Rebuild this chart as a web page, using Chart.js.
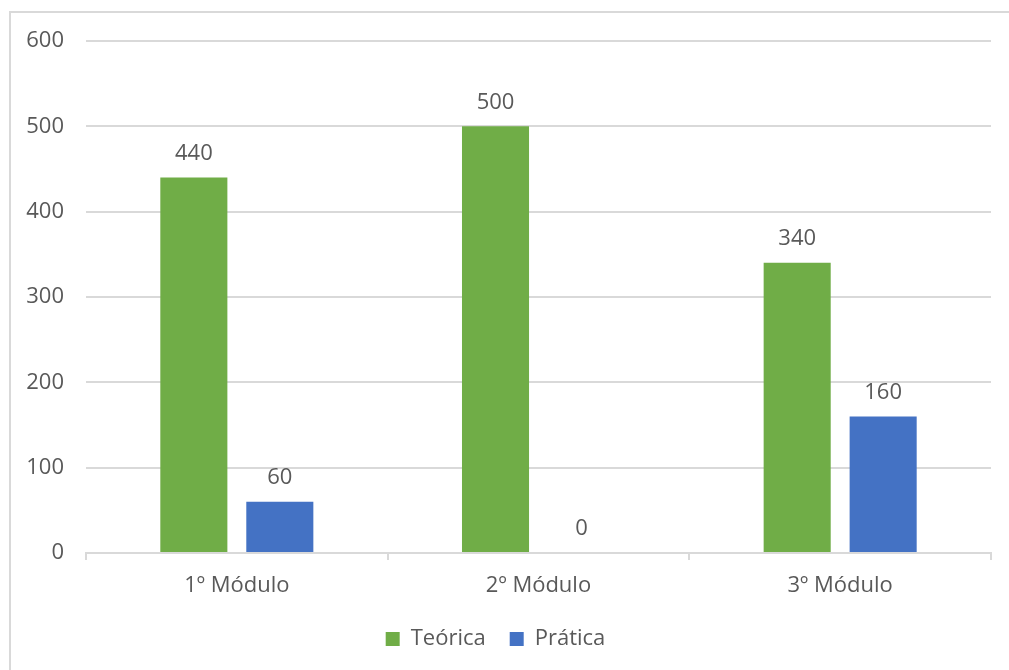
<!DOCTYPE html>
<html>
<head>
<meta charset="utf-8">
<script src="https://cdn.jsdelivr.net/npm/chart.js@4"></script>
<style>
  html, body { margin: 0; padding: 0; background: #fff; }
  #wrap { position: relative; width: 1009px; height: 670px; overflow: hidden; }
  #frame { position: absolute; left: 9px; top: 11px; width: 1100px; height: 800px; border: 2px solid #d9d9d9; box-sizing: border-box; }
  canvas { position: absolute; left: 0; top: 0; }
</style>
</head>
<body>
<div id="wrap">
  <div id="frame"></div>
  <canvas id="grafico" width="1009" height="670"></canvas>
</div>
<script>
const categorias = ["1º Módulo", "2º Módulo", "3º Módulo"];
const teorica = [440, 500, 340];
const pratica = [60, 0, 160];
const ticksY = [0, 100, 200, 300, 400, 500, 600];

const corTexto = "#595959";
const fonte = "'Open Sans', 'Liberation Sans', sans-serif";
const tamanho = 22;

// Rótulos de dados por cima das barras
const rotulos = {
  id: "rotulos",
  afterDatasetsDraw(chart) {
    const ctx = chart.ctx;
    ctx.save();
    ctx.font = tamanho + "px " + fonte;
    ctx.fillStyle = corTexto;
    ctx.textAlign = "center";
    ctx.textBaseline = "middle";
    chart.data.datasets.forEach((ds, i) => {
      chart.getDatasetMeta(i).data.forEach((bar, j) => {
        ctx.fillText(String(ds.data[j]), bar.x, bar.y - 24);
      });
    });
    ctx.restore();
  },
};

new Chart(document.getElementById("grafico").getContext("2d"), {
  type: "bar",
  data: {
    labels: categorias,
    datasets: [
      { label: "Teórica", data: teorica, backgroundColor: "#70ad47" },
      { label: "Prática", data: pratica, backgroundColor: "#4472c4" },
    ],
  },
  options: {
    responsive: false,
    animation: false,
    events: [],
    layout: { padding: { top: 41, right: 18, bottom: 10, left: 0 } },
    datasets: { bar: { categoryPercentage: 0.57, barPercentage: 0.78 } },
    plugins: {
      tooltip: { enabled: false },
      legend: {
        position: "bottom",
        labels: {
          boxWidth: 14,
          boxHeight: 14,
          padding: 24,
          color: corTexto,
          font: { family: fonte, size: tamanho },
        },
      },
    },
    scales: {
      x: {
        grid: {
          offset: true,
          drawOnChartArea: false,
          drawTicks: true,
          tickLength: 7,
          color: "#d9d9d9",
          lineWidth: 2,
        },
        border: { display: true, color: "#d9d9d9", width: 2 },
        ticks: { color: corTexto, font: { family: fonte, size: tamanho }, padding: 13 },
        afterFit(scale) { scale.height = 51; },
      },
      y: {
        min: 0,
        max: 600,
        afterBuildTicks(scale) { scale.ticks = ticksY.map((v) => ({ value: v })); },
        grid: { color: "#d9d9d9", lineWidth: 2, drawTicks: false },
        border: { display: false },
        ticks: { color: corTexto, font: { family: fonte, size: tamanho }, padding: 22 },
        afterFit(scale) { scale.width = 86; },
      },
    },
  },
  plugins: [rotulos],
});
</script>
</body>
</html>
